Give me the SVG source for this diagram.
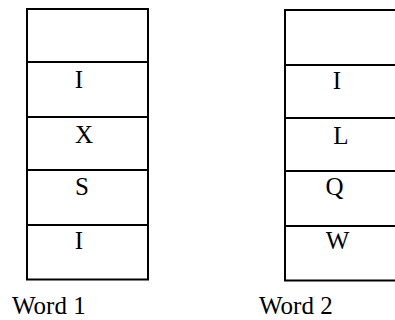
<svg xmlns="http://www.w3.org/2000/svg" width="395" height="320" viewBox="0 0 395 320">
<style>
.box{fill:#fff;stroke:#000;stroke-width:2}
.ln{stroke:#000;stroke-width:2}
text{font-family:"Liberation Serif","Times New Roman",serif;font-size:25px;fill:#000}
</style>
<rect width="395" height="320" fill="#fff"/>
<g id="word1">
<rect class="box" x="27" y="9" width="121" height="270.5"/>
<line class="ln" x1="27" y1="62" x2="148" y2="62"/>
<line class="ln" x1="27" y1="117" x2="148" y2="117"/>
<line class="ln" x1="27" y1="170" x2="148" y2="170"/>
<line class="ln" x1="27" y1="225" x2="148" y2="225"/>
<text x="79" y="88" text-anchor="middle">I</text>
<text x="84" y="143" text-anchor="middle">X</text>
<text x="82" y="195" text-anchor="middle">S</text>
<text x="79" y="248.5" text-anchor="middle">I</text>
<text x="12" y="314">Word 1</text>
</g>
<g id="word2">
<rect class="box" x="285" y="10" width="120" height="270.5"/>
<line class="ln" x1="285" y1="65" x2="405" y2="65"/>
<line class="ln" x1="285" y1="118" x2="405" y2="118"/>
<line class="ln" x1="285" y1="171" x2="405" y2="171"/>
<line class="ln" x1="285" y1="226" x2="405" y2="226"/>
<text x="337" y="89" text-anchor="middle">I</text>
<text x="341" y="144" text-anchor="middle">L</text>
<text x="334.5" y="195" text-anchor="middle">Q</text>
<text x="337.5" y="249" text-anchor="middle">W</text>
<text x="259" y="314">Word 2</text>
</g>
</svg>
